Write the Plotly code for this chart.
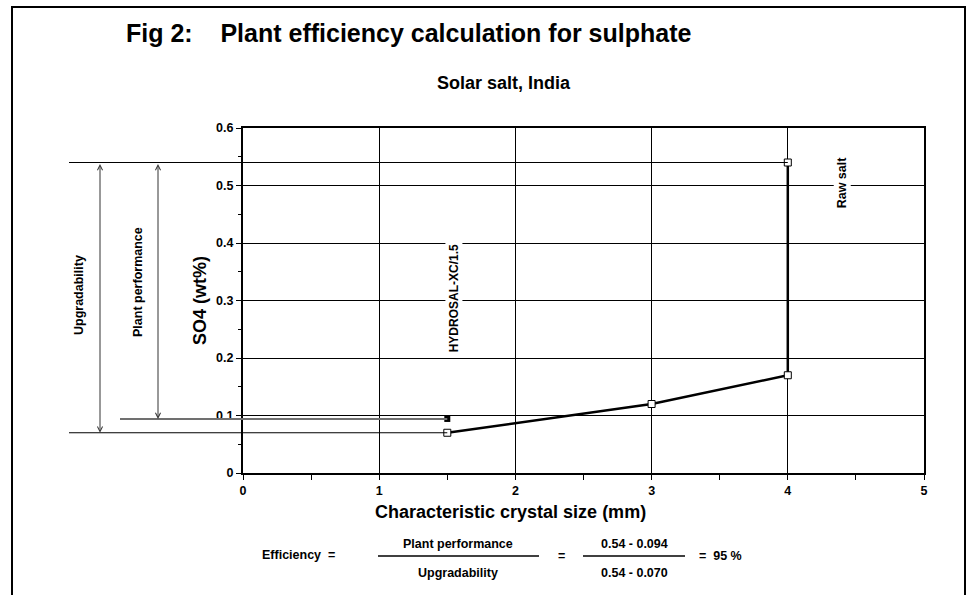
import plotly.graph_objects as go

# ---------------- data ----------------
size_mm = [1.5, 3, 4, 4]            # characteristic crystal size (mm)
so4_wt = [0.07, 0.12, 0.17, 0.54]   # SO4 (wt%)
product_size = [1.5]                # plant product
product_so4 = [0.094]
raw_salt_so4 = 0.54
best_so4 = 0.07
product_level = 0.094
x_ticks = [0, 1, 2, 3, 4, 5]
x_tick_labels = ["0", "1", "2", "3", "4", "5"]
y_ticks = [0, 0.1, 0.2, 0.3, 0.4, 0.5, 0.6]
y_tick_labels = ["0", "0.1", "0.2", "0.3", "0.4", "0.5", "0.6"]
hydrosal_label = "HYDROSAL-XC/1.5"
raw_label = "Raw salt"
efficiency_pct = round(100 * (raw_salt_so4 - product_level) / (raw_salt_so4 - best_so4))

# ---------------- layout helpers ----------------
W, H = 971, 595
L, T = 243, 128
PW, PH = 681, 345
R, B = W - L - PW, H - T - PH
X_RANGE = [0, 5]
Y_RANGE = [0, 0.6]
FONT = "Liberation Sans, Arial, sans-serif"


def px(xp):
    return (xp - L) / PW


def py(yp):
    return (T + PH - yp) / PH


def xdata_to_paper(v):
    return (v - X_RANGE[0]) / (X_RANGE[1] - X_RANGE[0])


fig = go.Figure()

fig.add_trace(go.Scatter(
    x=size_mm, y=so4_wt, mode="lines+markers",
    line=dict(color="black", width=2.5),
    marker=dict(symbol="square", size=7, color="white",
                line=dict(color="black", width=1)),
    showlegend=False, hoverinfo="x+y"))

fig.add_trace(go.Scatter(
    x=product_size, y=product_so4, mode="markers",
    marker=dict(symbol="square", size=6, color="black"),
    showlegend=False, hoverinfo="x+y"))

shapes = [
    # outer frame
    dict(type="rect", xref="paper", yref="paper",
         x0=px(12), x1=px(965), y0=py(640), y1=py(7),
         line=dict(color="black", width=2)),
    # reference levels
    dict(type="line", xref="paper", yref="y",
         x0=px(69), x1=xdata_to_paper(size_mm[-1]), y0=raw_salt_so4, y1=raw_salt_so4,
         line=dict(color="black", width=1)),
    dict(type="line", xref="paper", yref="y",
         x0=px(69), x1=xdata_to_paper(size_mm[0]), y0=best_so4, y1=best_so4,
         line=dict(color="black", width=1)),
    dict(type="line", xref="paper", yref="y",
         x0=px(120), x1=xdata_to_paper(product_size[0]), y0=product_level, y1=product_level,
         line=dict(color="#707070", width=2)),
    # fraction bars
    dict(type="line", xref="paper", yref="paper",
         x0=px(378), x1=px(539), y0=py(556), y1=py(556),
         line=dict(color="black", width=1.5)),
    dict(type="line", xref="paper", yref="paper",
         x0=px(583), x1=px(685), y0=py(556), y1=py(556),
         line=dict(color="black", width=1.5)),
]

bold = dict(family=FONT, color="black", weight="bold")


def txt(x, y, text, size, angle=0, xref="paper", yref="paper", bg=None, xanchor="center"):
    d = dict(x=x, y=y, xref=xref, yref=yref, text=text, showarrow=False,
             font=dict(size=size, **bold), textangle=angle,
             xanchor=xanchor, yanchor="middle")
    if bg:
        d["bgcolor"] = bg
    return d


annotations = [
    txt(px(124), py(33), "Fig 2:&nbsp;&nbsp;&nbsp; Plant efficiency calculation for sulphate", 25,
        xanchor="left"),
    txt(px(504), py(83), "Solar salt, India", 18),
    txt(px(510), py(512), "Characteristic crystal size (mm)", 18),
    txt(px(200), py(301), "SO4 (wt%)", 18, angle=-90),
    txt(px(79), py(295), "Upgradability", 12.5, angle=-90),
    txt(px(138), py(282), "Plant performance", 12.5, angle=-90),
    txt(1.55, 0.304, hydrosal_label, 12, angle=-90, xref="x", yref="y", bg="white"),
    txt(4.40, 0.506, raw_label, 12.5, angle=-90, xref="x", yref="y", bg="white"),
    # formula
    txt(px(298), py(555), "Efficiency&nbsp; =", 12.5),
    txt(px(458), py(544), "Plant performance", 12.5),
    txt(px(458), py(573), "Upgradability", 12.5),
    txt(px(561), py(556), "=", 12.5),
    txt(px(634), py(544), f"{raw_salt_so4:.2f} - {product_level:.3f}", 12.5),
    txt(px(634), py(573), f"{raw_salt_so4:.2f} - {best_so4:.3f}", 12.5),
    txt(px(720), py(556), f"=&nbsp; {efficiency_pct} %", 12.5),
]

# double-headed arrows
for xpix, lower in [(100, best_so4), (158, product_level)]:
    annotations.append(dict(
        x=px(xpix), xref="paper", y=lower, yref="y",
        ax=0, axref="pixel", ay=raw_salt_so4, ayref="y",
        text="", showarrow=True, arrowside="end+start",
        arrowhead=5, startarrowhead=5, arrowsize=1, startarrowsize=1,
        arrowwidth=1, arrowcolor="#333333", standoff=0, startstandoff=0))

axis_common = dict(
    showline=True, linecolor="black", linewidth=2, mirror=True,
    showgrid=True, gridcolor="black", gridwidth=1,
    ticks="outside", tickcolor="black", ticklen=5, tickwidth=1,
    tickfont=dict(size=12.5, **bold), zeroline=False, fixedrange=True,
)

fig.update_layout(
    width=W, height=H,
    margin=dict(l=L, r=R, t=T, b=B, pad=0),
    paper_bgcolor="white", plot_bgcolor="white",
    xaxis=dict(range=X_RANGE, tickvals=x_ticks, ticktext=x_tick_labels,
               minor=dict(dtick=0.5, ticks="outside", ticklen=5, tickcolor="black",
                          showgrid=False),
               **axis_common),
    yaxis=dict(range=Y_RANGE, tickvals=y_ticks, ticktext=y_tick_labels,
               minor=dict(dtick=0.05, ticks="outside", ticklen=3, tickcolor="black",
                          showgrid=False),
               **axis_common),
    shapes=shapes,
    annotations=annotations,
    showlegend=False,
)

# place the figure at the page origin so it fits the 971x595 window exactly
fig.write_html(
    "out.html",
    config={"displayModeBar": False},
    post_script="document.body.style.margin='0';document.body.style.overflow='hidden';",
)
